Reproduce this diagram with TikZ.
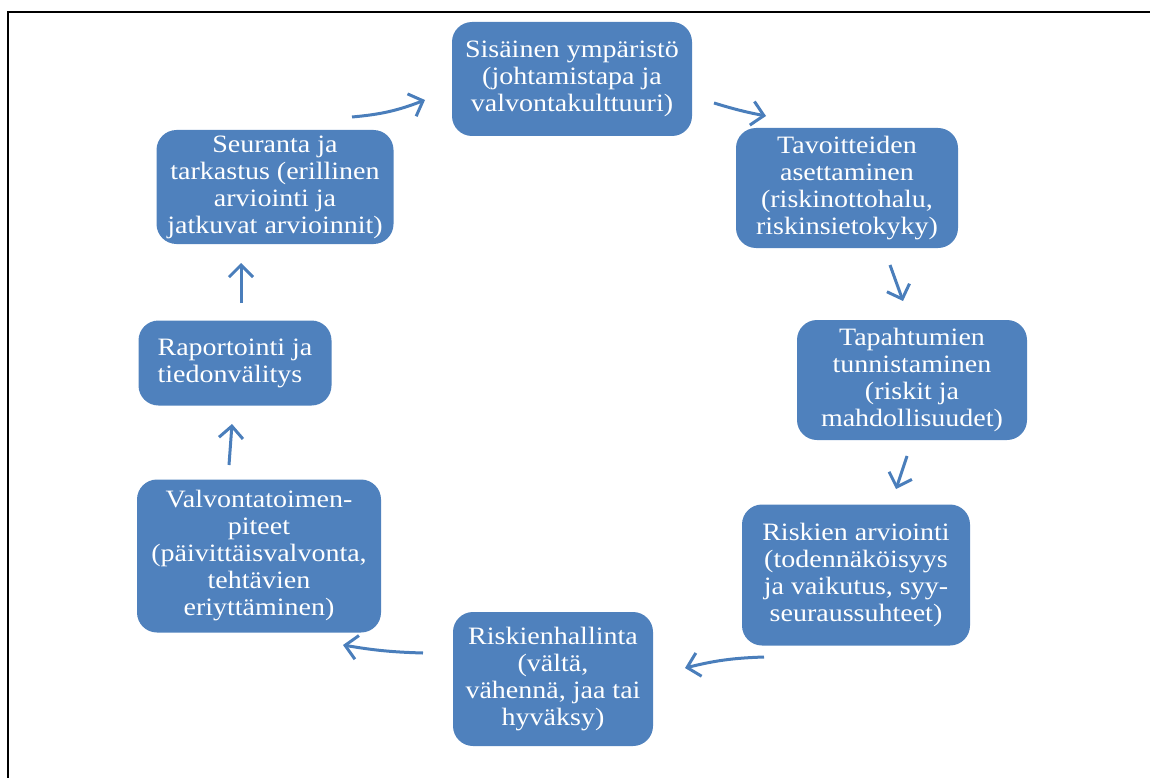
\documentclass[tikz,border=0pt]{standalone}
\usepackage{fontspec}
\setmainfont{Liberation Serif}[FakeStretch=1.12]
\usetikzlibrary{arrows.meta}
\definecolor{boxblue}{HTML}{4F81BD}
\definecolor{arrowblue}{HTML}{4A7EBB}
\tikzset{
  stage/.style={draw=none, fill=boxblue, rounded corners=20pt, text=white,
    align=center, inner sep=0pt, font=\fontsize{25}{27}\selectfont},
  flow/.style={draw=arrowblue, line width=3pt,
    -{Straight Barb[length=12pt, width=24pt, line width=3pt]}},
}
\begin{document}
\begin{tikzpicture}[x=1pt, y=-1pt]
\useasboundingbox (0,0) rectangle (1150,778);
\draw[line width=2.5pt, line cap=butt] (8,778) -- (8,12) -- (1150,12);

% boxes: centres and sizes in px
\node[stage, minimum width=240pt, minimum height=114pt] (n1) at (572,79)
  {Sisäinen ympäristö\\(johtamistapa ja\\valvontakulttuuri)};
\node[stage, minimum width=222pt, minimum height=120pt] (n2) at (847,188)
  {Tavoitteiden\\asettaminen\\(riskinottohalu,\\riskinsietokyky)};
\node[stage, minimum width=230pt, minimum height=120pt] (n3) at (912,380)
  {Tapahtumien\\tunnistaminen\\(riskit ja\\mahdollisuudet)};
\node[stage, minimum width=228pt, minimum height=141pt] (n4) at (856,575)
  {Riskien arviointi\\(todennäköisyys\\ja vaikutus, syy-\\seuraussuhteet)};
\node[stage, minimum width=200pt, minimum height=134pt] (n5) at (553,679)
  {Riskienhallinta\\(vältä,\\vähennä, jaa tai\\hyväksy)};
\node[stage, minimum width=244pt, minimum height=153pt] (n6) at (259,556)
  {Valvontatoimen-\\piteet\\(päivittäisvalvonta,\\tehtävien\\eriyttäminen)};
\node[stage, minimum width=193pt, minimum height=85pt, align=left] (n7) at (235,363)
  {Raportointi ja\\tiedonvälitys};
\node[stage, minimum width=237pt, minimum height=114pt] (n8) at (275,187)
  {Seuranta ja\\tarkastus (erillinen\\arviointi ja\\jatkuvat arvioinnit)};

% arrow end points
\coordinate (a1s) at (352,117); \coordinate (a1e) at (425,100);
\coordinate (a2s) at (714,103); \coordinate (a2e) at (766,116);
\coordinate (a3s) at (890,265); \coordinate (a3e) at (903,301);
\coordinate (a4s) at (907,456); \coordinate (a4e) at (896,489);
\coordinate (a5s) at (764,657); \coordinate (a5e) at (685,668);
\coordinate (a6s) at (423,653); \coordinate (a6e) at (343,645);
\coordinate (a7s) at (229,465); \coordinate (a7e) at (232,424);
\coordinate (a8s) at (241,303); \coordinate (a8e) at (241,263);

\draw[flow] (a1s) to[bend right=8] (a1e);
\draw[flow] (a2s) to[bend right=3] (a2e);
\draw[flow] (a3s) to (a3e);
\draw[flow] (a4s) to (a4e);
\draw[flow] (a5s) to[bend right=6] (a5e);
\draw[flow] (a6s) to[bend left=4] (a6e);
\draw[flow] (a7s) to (a7e);
\draw[flow] (a8s) to (a8e);
\end{tikzpicture}
\end{document}
